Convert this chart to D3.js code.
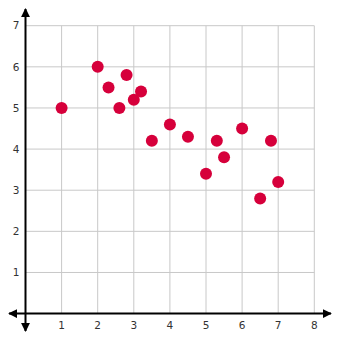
<!DOCTYPE html>
<html>
<head>
<meta charset="utf-8">
<script src="https://cdn.jsdelivr.net/npm/d3@7"></script>
<style>
  html, body { margin: 0; padding: 0; background: #fff; }
  svg { display: block; }
</style>
</head>
<body>
<div id="chart"></div>
<script>
const xTicks = [1, 2, 3, 4, 5, 6, 7, 8];
const yTicks = [1, 2, 3, 4, 5, 6, 7];
const xValues = [1, 2, 2.3, 2.6, 2.8, 3, 3.2, 3.5, 4, 4.5, 5, 5.3, 5.5, 6, 6.5, 6.8, 7];
const yValues = [5, 6, 5.5, 5, 5.8, 5.2, 5.4, 4.2, 4.6, 4.3, 3.4, 4.2, 3.8, 4.5, 2.8, 4.2, 3.2];

const width = 340, height = 340;

const x = d3.scaleLinear().domain([0, 8]).range([25.5, 314.3]);
const y = d3.scaleLinear().domain([0, 7]).range([313.6, 25.7]);

const svg = d3.select('#chart').append('svg')
    .attr('width', width)
    .attr('height', height);

const defs = svg.append('defs');
defs.append('marker')
    .attr('id', 'arrow')
    .attr('viewBox', '0 -5 10 10').attr('refX', 9).attr('refY', 0)
    .attr('markerWidth', 4.5).attr('markerHeight', 4.5)
    .attr('markerUnits', 'strokeWidth')
    .attr('orient', 'auto-start-reverse')
    .append('path').attr('d', 'M0,-5L10,0L0,5Z').attr('fill', '#000');

// grid
const grid = svg.append('g').attr('class', 'grid');
grid.selectAll('line.vx')
    .data(xTicks).enter().append('line')
    .attr('x1', d => x(d)).attr('x2', d => x(d))
    .attr('y1', y(0)).attr('y2', y(7))
    .attr('stroke', '#c8c8c8').attr('stroke-width', 1);
grid.selectAll('line.hy')
    .data(yTicks).enter().append('line')
    .attr('y1', d => y(d)).attr('y2', d => y(d))
    .attr('x1', x(0)).attr('x2', x(8))
    .attr('stroke', '#c8c8c8').attr('stroke-width', 1);

// axes with arrows at both ends
svg.append('line')
    .attr('x1', 9).attr('x2', 331)
    .attr('y1', y(0)).attr('y2', y(0))
    .attr('stroke', '#000').attr('stroke-width', 2)
    .attr('marker-start', 'url(#arrow)')
    .attr('marker-end', 'url(#arrow)');
svg.append('line')
    .attr('x1', x(0)).attr('x2', x(0))
    .attr('y1', 331).attr('y2', 9)
    .attr('stroke', '#000').attr('stroke-width', 2)
    .attr('marker-start', 'url(#arrow)')
    .attr('marker-end', 'url(#arrow)');

// tick labels
svg.append('g').selectAll('text')
    .data(xTicks).enter().append('text')
    .attr('x', d => x(d)).attr('y', 329)
    .attr('text-anchor', 'middle')
    .attr('font-family', "'DejaVu Sans', sans-serif")
    .attr('font-size', 10.5)
    .attr('fill', '#333')
    .text(d => d);
svg.append('g').selectAll('text')
    .data(yTicks).enter().append('text')
    .attr('x', 16).attr('y', d => y(d))
    .attr('dy', '0.36em')
    .attr('text-anchor', 'middle')
    .attr('font-family', "'DejaVu Sans', sans-serif")
    .attr('font-size', 10.5)
    .attr('fill', '#333')
    .text(d => d);

// points
svg.append('g').selectAll('circle')
    .data(xValues.map((v, i) => [v, yValues[i]])).enter().append('circle')
    .attr('cx', d => x(d[0])).attr('cy', d => y(d[1]))
    .attr('r', 6)
    .attr('fill', '#d6003b');
</script>
</body>
</html>
